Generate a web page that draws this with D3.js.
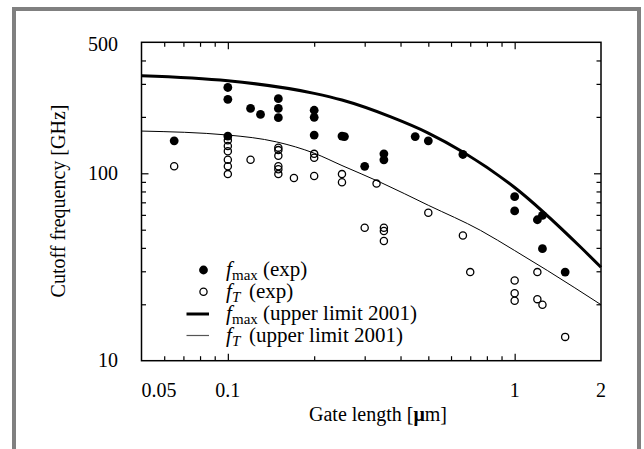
<!DOCTYPE html>
<html>
  <head>
    <meta charset="utf-8">
    <style>
      body { margin: 0; background: #fff; }
      text { font-family: "Liberation Serif", "Times New Roman", serif; fill: #000; }
    </style>
  </head>
  <body>
    <svg id="chart" width="644" height="449"></svg>
    <script src="https://cdn.jsdelivr.net/npm/d3@7"></script>
    <script>
      // upper limit curves
      let limitL = [0.05, 0.1, 0.2, 0.25, 0.37, 0.5, 0.66, 1.0, 1.7, 2.0];
      let fmaxLimit = [332, 312, 267, 246, 200, 164, 130, 84, 40.3, 31.5];
      let fTLimitL = [0.05, 0.1, 0.148, 0.2, 0.25, 0.34, 0.5, 0.76, 1.0, 1.3, 2.0];
      let fTLimit = [168, 160, 147, 128, 110, 89.6, 67.5, 49.6, 38.7, 30.3, 19.9];

      // experimental points
      let fmaxExpL = [0.065, 0.1, 0.1, 0.1, 0.12, 0.13, 0.15, 0.15, 0.15, 0.2, 0.2, 0.2,
        0.25, 0.255, 0.3, 0.35, 0.35, 0.45, 0.5, 0.66, 1.0, 1.0, 1.2, 1.25, 1.25, 1.5];
      let fmaxExp = [149, 287, 248, 158, 222, 206, 250, 222, 198, 217, 199, 160,
        158, 157, 109, 127, 118, 157, 149, 126, 75, 63, 56.5, 59.6, 39.6, 29.7];

      let fTExpL = [0.065, 0.1, 0.1, 0.1, 0.1, 0.1, 0.1, 0.12, 0.15, 0.15, 0.15, 0.15, 0.15, 0.15,
        0.17, 0.2, 0.2, 0.2, 0.25, 0.25, 0.33, 0.3, 0.35, 0.35, 0.35, 0.5, 0.66, 0.7,
        1.0, 1.0, 1.0, 1.2, 1.2, 1.25, 1.5];
      let fTExp = [109, 150, 140, 131, 118, 109, 99, 118, 137, 133, 124, 109, 105, 99,
        94.3, 127, 121, 96.7, 99, 89.5, 88.1, 51.2, 51.2, 49.2, 43.5, 61.6, 46.6, 29.7,
        26.8, 22.9, 20.9, 29.7, 21.3, 19.9, 13.4];

      // ticks
      let xTickLabels = [0.05, 0.1, 1, 2];
      let xMajor = [0.1, 1];
      let xMinor = [0.06, 0.07, 0.08, 0.09, 0.2, 0.3, 0.4, 0.5, 0.6, 0.7, 0.8, 0.9];
      let yTickLabels = [10, 100, 500];
      let yMajor = [100];
      let yMinor = [20, 30, 40, 50, 60, 70, 80, 90, 200, 300, 400];

      let svg = d3.select("#chart");
      let pLeft = 141.5, pRight = 601, pTop = 42.3, pBottom = 360.7;

      // grey frame
      svg.append("rect").attr("x", 12).attr("y", 7).attr("width", 4).attr("height", 442).attr("fill", "#808080");
      svg.append("rect").attr("x", 12).attr("y", 7).attr("width", 629).attr("height", 4).attr("fill", "#808080");
      svg.append("rect").attr("x", 637).attr("y", 7).attr("width", 4).attr("height", 442).attr("fill", "#808080");

      let x = d3.scaleLog().domain([0.05, 2]).range([pLeft, pRight]);
      let y = d3.scaleLog().domain([10, 500]).range([pBottom, pTop]);

      function tickAxis(axis, values, size, tx, ty) {
        svg.append("g")
          .attr("transform", `translate(${tx},${ty})`)
          .call(axis.tickValues(values).tickSize(size).tickFormat(""))
          .call((g) => g.select(".domain").remove())
          .selectAll("line").attr("stroke", "#000").attr("stroke-width", 1.2);
      }
      tickAxis(d3.axisBottom(x), xMinor, -4.5, 0, pBottom);
      tickAxis(d3.axisBottom(x), xMajor, -7, 0, pBottom);
      tickAxis(d3.axisTop(x), xMinor, -4.5, 0, pTop);
      tickAxis(d3.axisTop(x), xMajor, -7, 0, pTop);
      tickAxis(d3.axisLeft(y), yMinor, -4.5, pLeft, 0);
      tickAxis(d3.axisLeft(y), yMajor, -7, pLeft, 0);
      tickAxis(d3.axisRight(y), yMinor, -4.5, pRight, 0);
      tickAxis(d3.axisRight(y), yMajor, -7, pRight, 0);

      svg.append("rect")
        .attr("x", pLeft).attr("y", pTop)
        .attr("width", pRight - pLeft).attr("height", pBottom - pTop)
        .attr("fill", "none").attr("stroke", "#000").attr("stroke-width", 1.5);

      // tick labels
      svg.selectAll(".xlab").data(xTickLabels).enter().append("text")
        .attr("x", (d) => x(d)).attr("y", 397)
        .attr("text-anchor", (d) => (d === 0.05 ? "start" : "middle"))
        .attr("font-size", 20)
        .text((d) => d);
      svg.selectAll(".ylab").data(yTickLabels).enter().append("text")
        .attr("x", 118).attr("y", (d) => y(d) + (d === 500 ? 8.5 : 6.6))
        .attr("text-anchor", "end")
        .attr("font-size", 20)
        .text((d) => d);

      // axis titles
      let xt = svg.append("text").attr("x", 378).attr("y", 421)
        .attr("text-anchor", "middle").attr("font-size", 20);
      xt.append("tspan").text("Gate length [");
      xt.append("tspan").attr("font-weight", "bold").text("\u03bc");
      xt.append("tspan").text("m]");

      svg.append("text")
        .attr("transform", "translate(65,201) rotate(-90)")
        .attr("text-anchor", "middle").attr("font-size", 20)
        .text("Cutoff frequency [GHz]");

      // curves
      let line = d3.line().x((d) => x(d[0])).y((d) => y(d[1])).curve(d3.curveMonotoneX);
      svg.append("path").attr("d", line(d3.zip(limitL, fmaxLimit)))
        .attr("fill", "none").attr("stroke", "#000").attr("stroke-width", 3);
      svg.append("path").attr("d", line(d3.zip(fTLimitL, fTLimit)))
        .attr("fill", "none").attr("stroke", "#000").attr("stroke-width", 1);

      // points
      svg.selectAll(".ft").data(d3.zip(fTExpL, fTExp)).enter().append("circle")
        .attr("cx", (d) => x(d[0])).attr("cy", (d) => y(d[1])).attr("r", 3.6)
        .attr("fill", "none").attr("stroke", "#000").attr("stroke-width", 1.3);
      svg.selectAll(".fmax").data(d3.zip(fmaxExpL, fmaxExp)).enter().append("circle")
        .attr("cx", (d) => x(d[0])).attr("cy", (d) => y(d[1])).attr("r", 4.4)
        .attr("fill", "#000");

      // legend
      let rows = [270, 291.7, 314, 335.5];
      svg.append("circle").attr("cx", 203.5).attr("cy", rows[0]).attr("r", 4.4).attr("fill", "#000");
      svg.append("circle").attr("cx", 203.5).attr("cy", rows[1]).attr("r", 3.6)
        .attr("fill", "none").attr("stroke", "#000").attr("stroke-width", 1.3);
      svg.append("line").attr("x1", 186.5).attr("x2", 209).attr("y1", rows[2]).attr("y2", rows[2])
        .attr("stroke", "#000").attr("stroke-width", 3);
      svg.append("line").attr("x1", 186.5).attr("x2", 209).attr("y1", rows[3]).attr("y2", rows[3])
        .attr("stroke", "#555").attr("stroke-width", 1.2);

      let labels = [["max", "(exp)"], ["T", "(exp)"], ["max", "(upper limit 2001)"], ["T", "(upper limit 2001)"]];
      labels.forEach((l, i) => {
        let t = svg.append("text").attr("y", rows[i] + 6).attr("font-size", 21);
        t.append("tspan").attr("x", 226).attr("font-style", "italic").text("f");
        t.append("tspan").attr("x", 232).attr("dy", 4).attr("font-size", 15)
          .attr("font-style", l[0] === "T" ? "italic" : "normal").text(l[0]);
        t.append("tspan").attr("x", l[0] === "T" ? 249 : 263).attr("dy", -4).text(l[1]);
      });
    </script>
  </body>
</html>
